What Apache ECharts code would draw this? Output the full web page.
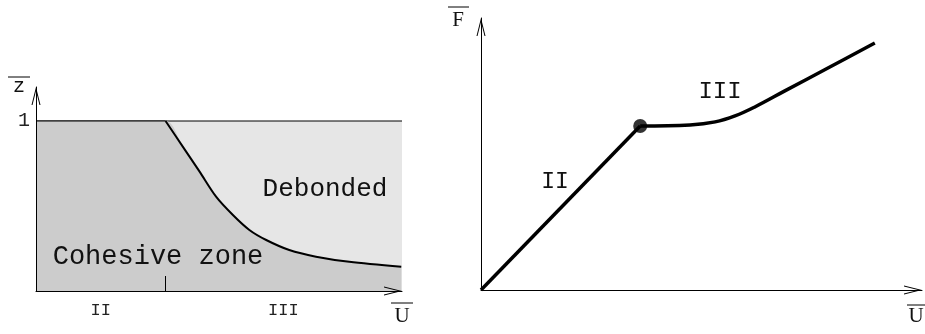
<!DOCTYPE html>
<html>
<head>
<meta charset="utf-8">
<script src="https://cdn.jsdelivr.net/npm/echarts@6/dist/echarts.min.js"></script>
<style>
  html, body { margin: 0; padding: 0; background: #fff; }
  #chart { width: 925px; height: 334px; }
</style>
</head>
<body>
<div id="chart"></div>
<script>
// left panel: debond front (z vs U)
const zoneTop = [[0, 1], [1, 1]]
const frontCurve = [
  [0.354, 1.0], [0.401, 0.849], [0.447, 0.702], [0.492, 0.555], [0.538, 0.447],
  [0.583, 0.359], [0.629, 0.300], [0.692, 0.241], [0.765, 0.202], [0.856, 0.172], [0.998, 0.143]
]
const cohesiveArea = [[0, 1]].concat(frontCurve)
const leftTick = [0.354]
const leftLabelPos = [0.177, 0.676]
const leftLabels = ['II', 'III']

// right panel: F vs U
const loadLinear = [[0, 0], [0.361, 0.603]]
const loadPlateau = [
  [0.361, 0.603], [0.474, 0.607], [0.531, 0.618], [0.576, 0.640],
  [0.621, 0.673], [0.689, 0.732], [0.791, 0.820], [0.893, 0.908]
]
const kinkPoint = [[0.361, 0.603]]

const chart = echarts.init(document.getElementById('chart'))
const mono = 'Liberation Mono'
const serif = 'Liberation Serif'
// open arrow head
const arrowPath = 'path://M45,0 L90,180 L80,180 L45,40 L10,180 L0,180 Z'
const axisLine = {
  show: true,
  symbol: ['none', arrowPath],
  symbolSize: [9, 18],
  symbolOffset: [0, -9],
  lineStyle: { color: '#000', width: 1 }
}

const option = {
  animation: false,
  grid: [
    { left: 36, right: 523, top: 87, bottom: 43 },
    { left: 481, right: 3, top: 18, bottom: 44 }
  ],
  xAxis: [
    {
      gridIndex: 0, type: 'value', min: 0, max: 1, z: 10,
      axisLine: axisLine,
      splitLine: { show: false },
      axisTick: { show: true, inside: true, length: 15, customValues: leftTick, lineStyle: { color: '#000' } },
      axisLabel: {
        show: true, customValues: leftLabelPos, margin: 11,
        fontFamily: mono, fontSize: 17, color: '#222',
        formatter: function (v) {
          const i = leftLabelPos.indexOf(v)
          return i >= 0 ? leftLabels[i] : ''
        }
      }
    },
    {
      gridIndex: 1, type: 'value', min: 0, max: 1, z: 10,
      axisLine: axisLine,
      splitLine: { show: false },
      axisTick: { show: false },
      axisLabel: { show: false }
    }
  ],
  yAxis: [
    {
      gridIndex: 0, type: 'value', min: 0, max: 1.2, interval: 1, z: 10,
      axisLine: axisLine,
      splitLine: { show: false },
      axisTick: { show: false },
      axisLabel: {
        show: true, margin: 6, fontFamily: mono, fontSize: 20, color: '#222',
        formatter: function (v) { return v === 1 ? '1' : '' }
      }
    },
    {
      gridIndex: 1, type: 'value', min: 0, max: 1, z: 10,
      axisLine: axisLine,
      splitLine: { show: false },
      axisTick: { show: false },
      axisLabel: { show: false }
    }
  ],
  series: [
    {
      type: 'line', xAxisIndex: 0, yAxisIndex: 0, data: zoneTop,
      symbol: 'none', lineStyle: { color: '#000', width: 1 },
      areaStyle: { color: '#e6e6e6', opacity: 1 }, z: 1
    },
    {
      type: 'line', xAxisIndex: 0, yAxisIndex: 0, data: cohesiveArea,
      symbol: 'none', smooth: 0.3, lineStyle: { width: 0 },
      areaStyle: { color: '#cccccc', opacity: 1 }, z: 2
    },
    {
      type: 'line', xAxisIndex: 0, yAxisIndex: 0, data: [[0, 1], [0.354, 1]],
      symbol: 'none', lineStyle: { color: '#000', width: 1 }, z: 3
    },
    {
      type: 'line', xAxisIndex: 0, yAxisIndex: 0, data: frontCurve,
      symbol: 'none', smooth: 0.3, lineStyle: { color: '#000', width: 2 }, z: 4
    },
    {
      type: 'line', xAxisIndex: 1, yAxisIndex: 1, data: loadLinear,
      symbol: 'none', lineStyle: { color: '#000', width: 3.5 }, z: 3
    },
    {
      type: 'line', xAxisIndex: 1, yAxisIndex: 1, data: loadPlateau,
      symbol: 'none', smooth: 0.4, lineStyle: { color: '#000', width: 3.5 }, z: 3
    },
    {
      type: 'scatter', xAxisIndex: 1, yAxisIndex: 1, data: kinkPoint,
      symbol: 'circle', symbolSize: 14, itemStyle: { color: '#000' }, z: 5
    }
  ],
  graphic: [
    // annotations
    { type: 'text', x: 158, y: 257, z: 10, style: { text: 'Cohesive zone', font: '27px ' + mono, fill: '#111', align: 'center', verticalAlign: 'middle' } },
    { type: 'text', x: 325, y: 189, z: 10, style: { text: 'Debonded', font: '26px ' + mono, fill: '#111', align: 'center', verticalAlign: 'middle' } },
    { type: 'text', x: 555, y: 182, z: 10, style: { text: 'II', font: '23px ' + mono, fill: '#111', align: 'center', verticalAlign: 'middle' } },
    { type: 'text', x: 720, y: 92, z: 10, style: { text: 'III', font: '24px ' + mono, fill: '#111', align: 'center', verticalAlign: 'middle' } },
    // axis names with overbars
    { type: 'text', x: 19, y: 87, z: 10, style: { text: 'z', font: '20px ' + mono, fill: '#111', align: 'center', verticalAlign: 'middle' } },
    { type: 'line', z: 10, shape: { x1: 8, y1: 77, x2: 30, y2: 77 }, style: { stroke: '#000', lineWidth: 1 } },
    { type: 'text', x: 402, y: 316, z: 10, style: { text: 'U', font: '21px ' + serif, fill: '#111', align: 'center', verticalAlign: 'middle' } },
    { type: 'line', z: 10, shape: { x1: 391, y1: 303, x2: 413, y2: 303 }, style: { stroke: '#000', lineWidth: 1 } },
    { type: 'text', x: 916, y: 316, z: 10, style: { text: 'U', font: '21px ' + serif, fill: '#111', align: 'center', verticalAlign: 'middle' } },
    { type: 'line', z: 10, shape: { x1: 907, y1: 305, x2: 925, y2: 305 }, style: { stroke: '#000', lineWidth: 1 } },
    { type: 'text', x: 458, y: 20, z: 10, style: { text: 'F', font: '21px ' + serif, fill: '#111', align: 'center', verticalAlign: 'middle' } },
    { type: 'line', z: 10, shape: { x1: 448, y1: 7, x2: 469, y2: 7 }, style: { stroke: '#000', lineWidth: 1 } }
  ]
}

chart.setOption(option)
</script>
</body>
</html>
